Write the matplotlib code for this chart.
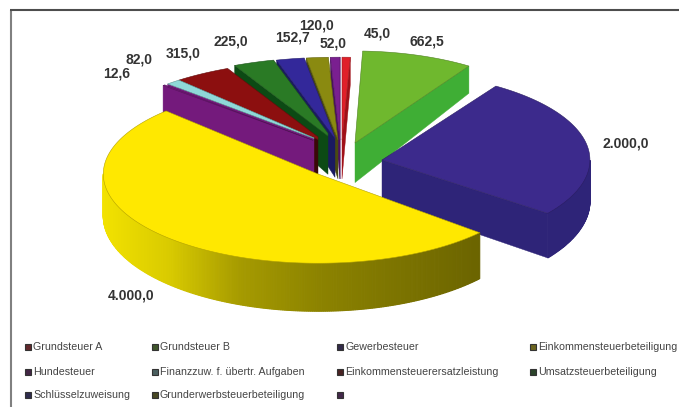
import numpy as np
import matplotlib
matplotlib.use("Agg")
import matplotlib.pyplot as plt
from matplotlib.colors import to_rgb
from matplotlib.patches import Polygon, Rectangle

plt.rcParams['font.family'] = ['Liberation Sans', 'DejaVu Sans']

W, H = 679, 407

# slices, clockwise from the top
value_labels = ["45,0", "662,5", "2.000,0", "4.000,0", "12,6", "82,0", "315,0", "225,0", "152,7", "120,0", "52,0"]
values = [45.0, 662.5, 2000.0, 4000.0, 12.6, 82.0, 315.0, 225.0, 152.7, 120.0, 52.0]
legend_names = ["Grundsteuer A", "Grundsteuer B", "Gewerbesteuer", "Einkommensteuerbeteiligung",
                "Hundesteuer", "Finanzzuw. f. übertr. Aufgaben", "Einkommensteuerersatzleistung", "Umsatzsteuerbeteiligung",
                "Schlüsselzuweisung", "Grunderwerbsteuerbeteiligung", ""]

top_colors = ["#e0202a", "#6fb82e", "#3c2a8c", "#ffe800", "#7a1a80", "#8fd8d8", "#8c0f0f", "#2a7a25", "#33289a", "#8a8a10", "#7a1f90"]
wall_colors = ["#a01018", "#3fae35", "#2e2478", "#ffee00", "#741a7c", "#741a7c", "#3a0808", "#0c4a14", "#1a1a60", "#4a4a10", "#4a1060"]

# layout of the exploded slices, in pixels: apex, radius factors, where the cut face stops
apex = [(342, 140), (355, 143), (382, 160), (318, 174), (323, 144), (326, 143), (326, 143),
        (333, 140), (336, 140), (338, 140), (340, 140)]
rx = [1, .92, .92, .95, 1, 1, 1, 1, 1, 1, 1]
ry = [.9, 1, .96, .97, .9, .9, .9, .9, .9, .9, .9]
inner_x = [None, None, None, None, 313, 314, 318, 328, 335, 338, None]
nudge_start = [0, 0, 0, -4, 0, 0, 0, 0, 0, 0, 0]
draw_order = [0, 10, 9, 8, 7, 6, 5, 4, 1, 2, 3]

RX, RY = 226, 92
START = 90.0


def depth(y):
    # walls get taller towards the front
    return np.interp(y, [60, 90, 145, 263], [27, 28, 40, 48])


def pt(i, t, r=1.0):
    t = np.radians(t)
    return np.array([apex[i][0] + r * rx[i] * RX * np.cos(t), apex[i][1] - r * ry[i] * RY * np.sin(t)])


def shade(col, f):
    return tuple(np.array(to_rgb(col)) * f)


fig = plt.figure(figsize=(W / 100, H / 100), dpi=100)
ax = fig.add_axes([0, 0, 1, 1])
ax.set_xlim(0, W)
ax.set_ylim(H, 0)
ax.axis("off")

# frame
ax.plot([11, 11], [H, 10], color="#808080", lw=1.5, solid_capstyle="butt")
ax.plot([10, W], [10, 10], color="#4d4d4d", lw=1.5, solid_capstyle="butt")

sweep = np.array(values) / sum(values) * 360
ends = START - np.cumsum(sweep)
starts = ends + sweep


def quad(p, q, **kw):
    pts = [p, q, q + [0, depth(q[1])], p + [0, depth(p[1])]]
    ax.add_patch(Polygon(pts, closed=True, **kw))


for i in draw_order:
    t0, t1 = starts[i] + nudge_start[i], ends[i]
    col = wall_colors[i]
    # the apex may be cut back so the walls behind it still show
    a0 = a1 = np.array(apex[i], float)
    if inner_x[i] is not None:
        f0 = (inner_x[i] - apex[i][0]) / (rx[i] * RX * np.cos(np.radians(t0)))
        f1 = (inner_x[i] - apex[i][0]) / (rx[i] * RX * np.cos(np.radians(t1)))
        a0, a1 = pt(i, t0, f0), pt(i, t1, f1)
    # cut faces that look at the viewer
    if np.sin(np.radians(t0 + 90)) < 0:
        quad(a0, pt(i, t0), fc=col, ec=col, lw=0.3)
    if np.sin(np.radians(t1 - 90)) < 0:
        quad(a1, pt(i, t1), fc=col, ec=col, lw=0.3)
    # outer wall, front half only
    ts = np.linspace(t0, t1, max(int(abs(t0 - t1)) * 2, 2))
    for u, v in zip(ts[:-1], ts[1:]):
        if np.sin(np.radians((u + v) / 2)) > 0:
            continue
        f = 1.0
        if i == 3:
            # yellow rim fades to olive going right
            f = np.interp(pt(i, u)[0], [103, 170, 240, 320, 480], [.95, .85, .65, .55, .42])
        c = shade(col, f)
        quad(pt(i, u), pt(i, v), fc=c, ec=c, lw=0.8)
    # top
    arc = [pt(i, t) for t in ts]
    ax.add_patch(Polygon([a0] + arc + [a1], closed=True, fc=top_colors[i], ec=shade(top_colors[i], 0.7), lw=0.4))

# value labels
label_pos = [(377, 34), (427, 41), (626, 143), (131, 296), (117, 74), (139, 60), (183, 54),
             (231, 42), (293, 38), (316, 25), (333, 44)]
for txt, (x, y) in zip(value_labels, label_pos):
    ax.text(x, y, txt, fontsize=10, fontweight="bold", color="#333333", ha="center", va="center")

# legend, 4 columns; the swatches read almost black
col_x = [28, 155, 340, 533]
row_y = [347, 372, 395]
for n, name in enumerate(legend_names):
    x = col_x[n % 4]
    y = row_y[n // 4]
    swatch = tuple(np.array(to_rgb(top_colors[n])) * 0.3 + 0.12)
    ax.add_patch(Rectangle((x - 3, y - 3), 6, 6, fc=swatch, ec="#333333", lw=0.8))
    ax.text(x + 5, y, name, fontsize=7.7, color="#444444", ha="left", va="center", clip_on=True)

fig.savefig("out.png", dpi=100)
